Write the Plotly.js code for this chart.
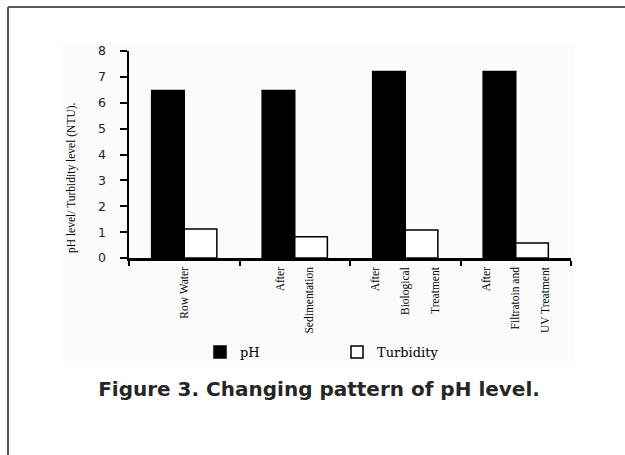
<!DOCTYPE html>
<html><head><meta charset="utf-8">
<script src="https://cdn.plot.ly/plotly-3.0.1.min.js"></script>
<style>html,body{margin:0;padding:0;background:#fff}#chart{width:625px;height:455px}</style>
</head><body><div id="chart"></div>
<script>
const categories = ["Row Water", "After Sedimentation", "After Biological Treatment", "After Filtratoin and UV Treatment"];
const tickLabels = ["Row Water",
  "After<br>\u00a0<br>Sedimentation",
  "After<br>\u00a0<br>Biological<br>\u00a0<br>Treatment",
  "After<br>\u00a0<br>Filtratoin and<br>\u00a0<br>UV Treatment"];
const phValues = [6.47, 6.47, 7.21, 7.21];
const turbidityValues = [1.12, 0.82, 1.08, 0.58];
const seriesNames = ["pH", "Turbidity"];
const yTicks = [0, 1, 2, 3, 4, 5, 6, 7, 8];

const W = 625, H = 455, L = 129, R = 54, T = 51, B = 197;
const pw = W - L - R, ph = H - T - B;
const px = v => (v - L) / pw;
const py = v => (H - B - v) / ph;

const traces = [
  {type: "bar", name: seriesNames[0], x: categories, y: phValues,
   marker: {color: "#000", line: {color: "#000", width: 1.5}}},
  {type: "bar", name: seriesNames[1], x: categories, y: turbidityValues,
   marker: {color: "#fff", line: {color: "#000", width: 1.5}}}
];

const layout = {
  width: W, height: H,
  margin: {l: L, r: R, t: T, b: B},
  paper_bgcolor: "#fff", plot_bgcolor: "rgba(0,0,0,0)",
  barmode: "group", bargap: 0.41, bargroupgap: 0,
  showlegend: true,
  title: {text: "<b>Figure 3. Changing pattern of pH level.</b>",
          font: {family: "DejaVu Sans", size: 20, color: "#262626"},
          x: 319 / W, xref: "container", xanchor: "center",
          y: 1 - 389 / H, yref: "container", yanchor: "middle"},
  xaxis: {type: "category", range: [-0.5, 3.5], tickson: "boundaries",
          tickmode: "array", tickvals: categories, ticktext: tickLabels,
          ticks: "outside", ticklen: 5, tickwidth: 2, tickcolor: "#000",
          showline: true, linewidth: 2.5, linecolor: "#000",
          showgrid: false, zeroline: false, tickangle: -90, ticklabelstandoff: 2,
          tickfont: {family: "Liberation Serif", size: 11.5, color: "#000"}},
  yaxis: {range: [0, 8], tickmode: "array", tickvals: yTicks,
          ticks: "outside", ticklen: 7, tickwidth: 2, tickcolor: "#000",
          showline: true, linewidth: 2.5, linecolor: "#000",
          showgrid: false, zeroline: false, ticklabelstandoff: 11,
          tickfont: {family: "DejaVu Sans", size: 12.5, color: "#222"}},
  legend: {orientation: "h", x: px(200), xanchor: "left", y: py(352), yanchor: "middle",
           font: {family: "DejaVu Serif", size: 13, color: "#000"},
           entrywidth: 92, entrywidthmode: "pixels", bgcolor: "rgba(0,0,0,0)"},
  annotations: [
    {text: "pH level/ Turbidity level (NTU).", xref: "paper", yref: "paper",
     x: px(71), y: py(178), xanchor: "center", yanchor: "middle", textangle: -90,
     showarrow: false, font: {family: "Liberation Serif", size: 11.5, color: "#000"}}
  ],
  shapes: [
    {type: "rect", xref: "paper", yref: "paper", layer: "below",
     x0: px(62), x1: px(574), y0: py(362), y1: py(43),
     fillcolor: "#fbfbfb", line: {width: 0}},
    {type: "line", xref: "paper", yref: "paper", x0: px(8), x1: px(640), y0: py(7), y1: py(7),
     line: {color: "#5a5a5a", width: 2}},
    {type: "line", xref: "paper", yref: "paper", x0: px(8), x1: px(8), y0: py(7), y1: py(470),
     line: {color: "#5a5a5a", width: 2}}
  ]
};

Plotly.newPlot("chart", traces, layout, {displayModeBar: false, staticPlot: true});
</script>
</body></html>
